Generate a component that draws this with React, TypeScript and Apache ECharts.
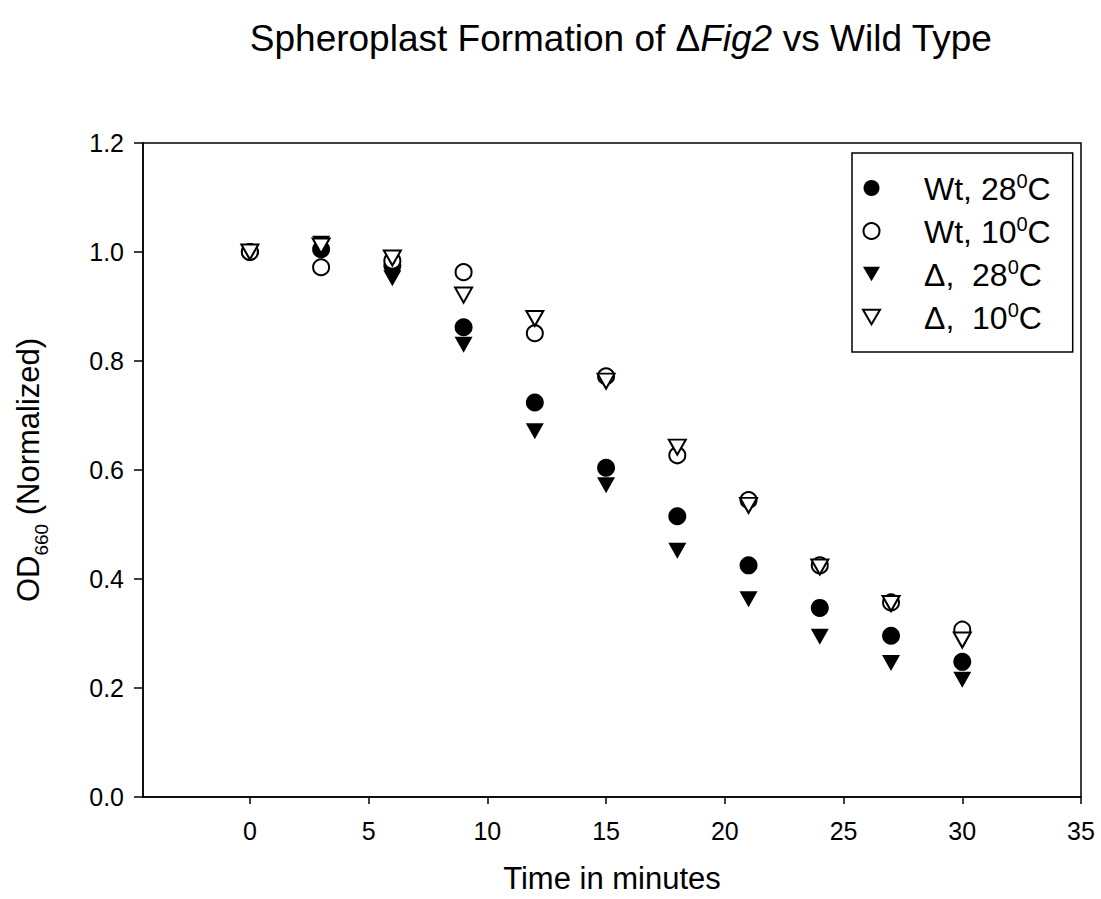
import React, { useEffect, useRef } from "react";
import * as echarts from "echarts";

const times = [0, 3, 6, 9, 12, 15, 18, 21, 24, 27, 30];
const wt28 = [1.0, 1.005, 0.975, 0.862, 0.724, 0.604, 0.515, 0.425, 0.347, 0.296, 0.248];
const wt10 = [1.0, 0.972, 0.984, 0.963, 0.851, 0.772, 0.627, 0.545, 0.425, 0.357, 0.307];
const d28 = [1.0, 1.015, 0.952, 0.83, 0.671, 0.572, 0.452, 0.363, 0.294, 0.246, 0.215];
const d10 = [1.0, 1.011, 0.989, 0.921, 0.878, 0.763, 0.642, 0.535, 0.422, 0.355, 0.288];
const xTicks = [0, 5, 10, 15, 20, 25, 30, 35];
const seriesNames = ["Wt, 28C", "Wt, 10C", "D, 28C", "D, 10C"];
const legendLabels: Record<string, string> = {
  "Wt, 28C": "{g|}{t|Wt, 28}{s|0}{t|C}",
  "Wt, 10C": "{g|}{t|Wt, 10}{s|0}{t|C}",
  "D, 28C": "{g|}{t|Δ,  28}{s|0}{t|C}",
  "D, 10C": "{g|}{t|Δ,  10}{s|0}{t|C}",
};

const FONT = "'Liberation Sans', Arial, Helvetica, sans-serif";
const TRI = "path://M0,0 L20,0 L10,17 Z";

export default function App() {
  const ref = useRef<HTMLDivElement>(null);
  useEffect(() => {
    if (!ref.current) return;
    const chart = echarts.init(ref.current, undefined, { renderer: "svg" });
    const pts = (arr: number[]) => times.map((t, i) => [t, arr[i]]);
    const filled = { color: "#000", opacity: 1 };
    const open = { color: "#fff", borderColor: "#000", borderWidth: 2, opacity: 1 };
    chart.setOption({
      animation: false,
      backgroundColor: "#fff",
      textStyle: { fontFamily: FONT, color: "#000" },
      title: {
        text: "{t|Spheroplast Formation of Δ}{i|Fig2}{t| vs Wild Type}",
        left: 616,
        textAlign: "center",
        top: 15,
        textStyle: {
          fontWeight: "normal",
          rich: {
            t: { fontSize: 37, fontFamily: FONT, fontWeight: "normal", color: "#000" },
            i: { fontSize: 37, fontFamily: FONT, fontWeight: "normal", fontStyle: "italic", color: "#000" },
          },
        },
      },
      legend: {
        orient: "vertical",
        left: 852,
        top: 153,
        padding: [18, 22, 18, 10],
        itemGap: 9,
        itemWidth: 17,
        itemHeight: 16,
        borderColor: "#000",
        borderWidth: 1.5,
        backgroundColor: "#fff",
        data: seriesNames,
        formatter: (name: string) => legendLabels[name],
        textStyle: {
          rich: {
            g: { width: 39, height: 32 },
            t: { fontSize: 32, fontFamily: FONT, color: "#000", lineHeight: 34, verticalAlign: "bottom" },
            s: { fontSize: 20, fontFamily: FONT, color: "#000", verticalAlign: "top", lineHeight: 34 },
          },
        },
      },
      grid: {
        left: 143,
        right: 20,
        top: 143,
        bottom: 100,
        show: true,
        borderColor: "#000",
        borderWidth: 1.5,
        backgroundColor: "transparent",
      },
      xAxis: {
        type: "value",
        min: -4.5,
        max: 35,
        name: "Time in minutes",
        nameLocation: "middle",
        nameGap: 66,
        nameTextStyle: { fontSize: 31, fontFamily: FONT, color: "#000" },
        axisLine: { show: true, onZero: false, lineStyle: { color: "#000", width: 1.5 } },
        axisTick: { show: true, length: 7, customValues: xTicks, lineStyle: { color: "#000", width: 1.5 } },
        axisLabel: { customValues: xTicks, fontSize: 25, color: "#000", margin: 21, fontFamily: FONT },
        splitLine: { show: false },
      },
      yAxis: {
        type: "value",
        min: 0,
        max: 1.2,
        interval: 0.2,
        name: "{t|OD}{s|660}{t| (Normalized)}",
        nameLocation: "middle",
        nameGap: 92,
        nameRotate: 90,
        nameTextStyle: {
          rich: {
            t: { fontSize: 31, fontFamily: FONT, color: "#000", lineHeight: 38, verticalAlign: "top" },
            s: { fontSize: 19, fontFamily: FONT, color: "#000", verticalAlign: "bottom", lineHeight: 38 },
          },
        },
        axisLine: { show: true, onZero: false, lineStyle: { color: "#000", width: 1.5 } },
        axisTick: { show: true, length: 9, lineStyle: { color: "#000", width: 1.5 } },
        axisLabel: {
          fontSize: 25,
          color: "#000",
          margin: 19,
          fontFamily: FONT,
          formatter: (v: number) => v.toFixed(1),
        },
        splitLine: { show: false },
      },
      series: [
        { name: seriesNames[0], type: "scatter", symbol: "circle", symbolSize: 18, itemStyle: filled, data: pts(wt28) },
        { name: seriesNames[1], type: "scatter", symbol: "circle", symbolSize: 16, itemStyle: open, data: pts(wt10) },
        { name: seriesNames[2], type: "scatter", symbol: TRI, symbolSize: [18, 16], itemStyle: filled, data: pts(d28) },
        { name: seriesNames[3], type: "scatter", symbol: TRI, symbolSize: [17, 15], itemStyle: open, data: pts(d10) },
      ],
    });
    return () => chart.dispose();
  }, []);
  return (
    <div
      ref={ref}
      style={{ position: "fixed", left: 0, top: 0, width: 1101, height: 899, background: "#fff" }}
    />
  );
}
